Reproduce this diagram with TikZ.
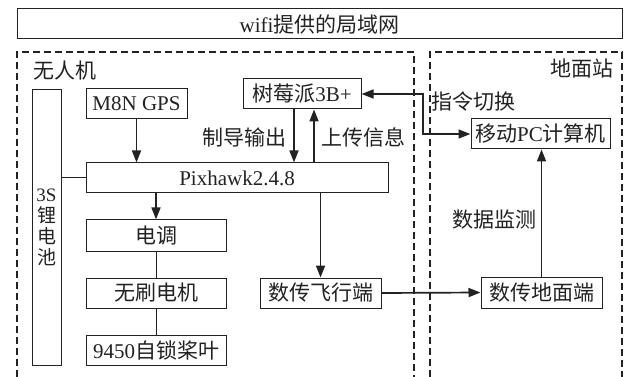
\documentclass[tikz,border=0pt]{standalone}
\usepackage{fontspec}
\setmainfont{Liberation Serif}
\newfontfamily\cjk{Noto Sans CJK SC}
\usetikzlibrary{arrows.meta}
\definecolor{ink}{HTML}{222222}
\tikzset{
  box/.style={draw=ink, line width=1pt, inner sep=0pt, minimum height=30pt, text=ink,
    font=\fontsize{21}{24}\selectfont},
  lbl/.style={inner sep=0pt, text=ink, font=\fontsize{21}{24}\selectfont},
  arr/.style={draw=ink, line width=1.7pt, -{Triangle[length=12pt,width=9pt]}},
  arrboth/.style={draw=ink, line width=1.7pt, {Triangle[length=12pt,width=9pt]}-{Triangle[length=12pt,width=9pt]}},
  thinline/.style={draw=ink, line width=1pt},
  zone/.style={draw=ink, line width=1.5pt, dash pattern=on 7pt off 4pt},
}
\begin{document}
\begin{tikzpicture}[x=1pt,y=-1pt]
\useasboundingbox (0,0) rectangle (627,377);
\clip (0,0) rectangle (627,377);
\fill[white] (0,0) rectangle (627,377);
% zones
\draw[zone] (17,377) -- (17,52) -- (414,52) -- (414,377);
\draw[zone] (430,377) -- (430,52) -- (622,52) -- (622,377);
% boxes
\node[box, minimum width=605pt] (wifi) at (319.5,24) {wifi{\cjk 提供的局域网}};
\node[box, minimum width=101pt] (gps) at (136.5,104) {M8N GPS};
\node[box, minimum width=302pt] (pix) at (237,178) {Pixhawk2.4.8};
\node[box, minimum width=29pt, minimum height=275pt] (bat) at (46.5,227.5) {};
\node[lbl, align=center, font=\fontsize{19}{21}\selectfont] (battxt) at (46.5,227) {3S\\{\cjk 锂}\\{\cjk 电}\\{\cjk 池}};
\node[box, minimum width=118pt] (rpi) at (302,94) {{\cjk 树莓派}3B+};
\node[box, minimum width=140pt, minimum height=31pt] (esc) at (156,235.5) {\cjk 电调};
\node[box, minimum width=140pt] (motor) at (156,293) {\cjk 无刷电机};
\node[box, minimum width=140pt] (prop) at (156,350) {9450{\cjk 自锁桨叶}};
\node[box, minimum width=121pt] (dtf) at (320.5,293) {\cjk 数传飞行端};
\node[box, minimum width=121pt, minimum height=31pt] (dtg) at (541.5,292.5) {\cjk 数传地面端};
\node[box, minimum width=139pt] (pc) at (540.5,134) {{\cjk 移动}PC{\cjk 计算机}};
% labels
\node[lbl, anchor=west] (uav) at (33,71) {\cjk 无人机};
\node[lbl, anchor=east] (gs) at (614,69) {\cjk 地面站};
\node[lbl, anchor=east] (zd) at (287,137) {\cjk 制导输出};
\node[lbl, anchor=west] (sc) at (321,137) {\cjk 上传信息};
\node[lbl, anchor=west] (zl) at (431,102) {\cjk 指令切换};
\node[lbl, anchor=east] (sj) at (537,220) {\cjk 数据监测};
% connectors
\draw[arr] (gps.south) -- (gps.south |- pix.north);
\draw[arr] ([xshift=-8pt]rpi.south) -- ([xshift=-8pt]rpi.south |- pix.north);
\draw[arr] ([xshift=12pt]rpi.south |- pix.north) -- ([xshift=12pt]rpi.south);
\draw[arr] (pix.south -| esc.north) -- (esc.north);
\draw[thinline] (esc) -- (motor);
\draw[thinline] (motor) -- (prop);
\draw[arr] (pix.south -| dtf.north) -- (dtf.north);
\draw[arr] (dtf.east) -- (dtg.west);
\draw[arr] (dtg.north) -- (dtg.north |- pc.south);
\draw[thinline] (bat.east |- pix.west) -- (pix.west);
\coordinate (k1) at (423,94);
\coordinate (k2) at (423,134);
\draw[arrboth] (rpi.east) -- (k1) -- (k2) -- (pc.west);
\end{tikzpicture}
\end{document}
